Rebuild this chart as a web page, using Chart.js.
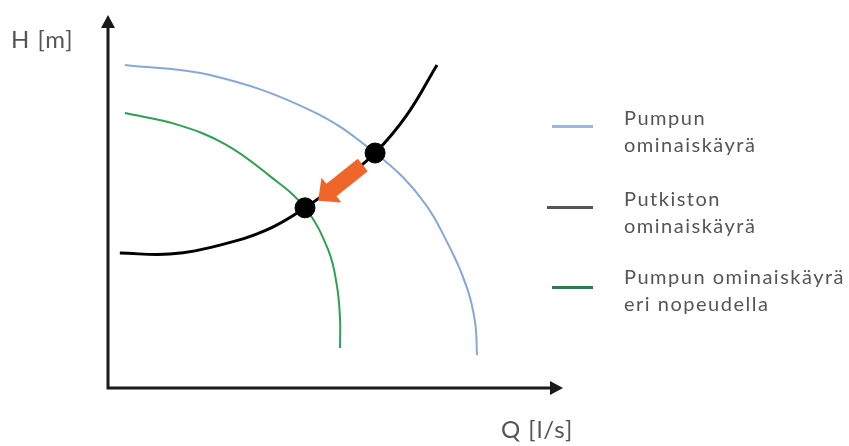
<!DOCTYPE html>
<html>
<head>
<meta charset="utf-8">
<script src="https://cdn.jsdelivr.net/npm/chart.js@4.4.1/dist/chart.umd.min.js"></script>
<style>
  html, body { margin: 0; padding: 0; background: #fff; }
  #wrap { position: relative; width: 849px; height: 446px; overflow: hidden; }
  #chart { position: absolute; left: 0; top: 0; }
  .lbl { position: absolute; font-family: Lato, "Open Sans", sans-serif; color: #555; white-space: nowrap; }
  .axis { font-size: 24px; letter-spacing: 1px; }
  .leg { font-size: 20px; line-height: 27px; letter-spacing: 1.5px; }
  .sw { position: absolute; height: 3px; width: 41px; }
</style>
</head>
<body>
<div id="wrap">
  <canvas id="chart" width="849" height="446"></canvas>
  <div class="lbl axis" style="left:11px; top:24px;">H [m]</div>
  <div class="lbl axis" style="left:501px; top:414px;">Q [l/s]</div>

  <div class="sw" style="left:552px; top:125px; background:#9bbad9;"></div>
  <div class="lbl leg" style="left:624px; top:104px;">Pumpun<br>ominaiskäyrä</div>

  <div class="sw" style="left:547px; top:206px; width:46px; background:#555;"></div>
  <div class="lbl leg" style="left:624px; top:185px;">Putkiston<br>ominaiskäyrä</div>

  <div class="sw" style="left:552px; top:286px; background:#2f7d4a;"></div>
  <div class="lbl leg" style="left:624px; top:263px;">Pumpun ominaiskäyrä<br>eri nopeudella</div>
</div>
<script>
// Pump curve (nominal speed), Q and H in relative units
const pumpQ = [3.7, 22.4, 44.4, 58.7, 68.6, 75.2, 79.0, 80.7, 81.1];
const pumpH = [86.6, 83.9, 74.5, 63.0, 51.2, 37.5, 26.5, 17.4, 8.8];

// Pump curve at reduced speed
const slowQ = [3.7, 14.7, 25.7, 35.6, 43.3, 48.4, 50.3, 51.0, 51.0];
const slowH = [73.7, 70.8, 65.4, 56.8, 48.3, 37.0, 27.5, 18.5, 10.7];

// System (piping) curve
const pipeQ = [2.6, 13.6, 24.6, 34.9, 43.3, 51.0, 58.7, 65.7, 72.3];
const pipeH = [36.2, 35.9, 38.3, 42.4, 48.3, 55.2, 63.0, 73.2, 86.6];

// Operating points
const opQ = [43.3, 58.7];
const opH = [48.3, 63.0];

// Orange arrow: from the nominal point toward the reduced-speed point
const arrowQ = [56.0, 46.2];
const arrowH = [59.8, 50.2];

const pts = (xs, ys) => xs.map((x, i) => ({ x, y: ys[i] }));

// axes with arrow heads, drawn along the chart area edges
const axesPlugin = {
  id: 'axesArrows',
  beforeDatasetsDraw(chart) {
    const { ctx, chartArea: a } = chart;
    ctx.save();
    ctx.strokeStyle = '#1a1a1a';
    ctx.fillStyle = '#1a1a1a';
    ctx.lineWidth = 3;
    ctx.beginPath();
    ctx.moveTo(a.left, a.bottom);
    ctx.lineTo(a.left, a.top + 10);
    ctx.moveTo(a.left - 1.5, a.bottom);
    ctx.lineTo(a.right - 10, a.bottom);
    ctx.stroke();
    // y arrow head
    ctx.beginPath();
    ctx.moveTo(a.left, a.top);
    ctx.lineTo(a.left - 7, a.top + 13);
    ctx.lineTo(a.left + 7, a.top + 13);
    ctx.closePath();
    ctx.fill();
    // x arrow head
    ctx.beginPath();
    ctx.moveTo(a.right, a.bottom);
    ctx.lineTo(a.right - 13, a.bottom - 7);
    ctx.lineTo(a.right - 13, a.bottom + 7);
    ctx.closePath();
    ctx.fill();
    ctx.restore();
  }
};

const arrowPlugin = {
  id: 'moveArrow',
  afterDatasetsDraw(chart) {
    const { ctx, scales: { x, y } } = chart;
    const x0 = x.getPixelForValue(arrowQ[0]), y0 = y.getPixelForValue(arrowH[0]);
    const x1 = x.getPixelForValue(arrowQ[1]), y1 = y.getPixelForValue(arrowH[1]);
    const len = Math.hypot(x1 - x0, y1 - y0);
    const ang = Math.atan2(y1 - y0, x1 - x0);
    const shaft = 8, head = 16, headLen = 17;
    ctx.save();
    ctx.translate(x0, y0);
    ctx.rotate(ang);
    ctx.fillStyle = '#f0652a';
    ctx.beginPath();
    ctx.moveTo(0, -shaft);
    ctx.lineTo(len - headLen, -shaft);
    ctx.lineTo(len - headLen, -head);
    ctx.lineTo(len, 0);
    ctx.lineTo(len - headLen, head);
    ctx.lineTo(len - headLen, shaft);
    ctx.lineTo(0, shaft);
    ctx.closePath();
    ctx.fill();
    ctx.restore();
  }
};

new Chart(document.getElementById('chart'), {
  type: 'scatter',
  data: {
    datasets: [
      {
        label: 'Toimintapisteet',
        data: pts(opQ, opH),
        backgroundColor: '#000',
        borderColor: '#000',
        pointRadius: 10,
        order: 0
      },
      {
        label: 'Pumpun ominaiskäyrä',
        data: pts(pumpQ, pumpH),
        showLine: true,
        borderColor: '#86a8d2',
        borderWidth: 2,
        pointRadius: 0,
        tension: 0.4,
        order: 3
      },
      {
        label: 'Pumpun ominaiskäyrä eri nopeudella',
        data: pts(slowQ, slowH),
        showLine: true,
        borderColor: '#2ea052',
        borderWidth: 2,
        pointRadius: 0,
        tension: 0.4,
        order: 2
      },
      {
        label: 'Putkiston ominaiskäyrä',
        data: pts(pipeQ, pipeH),
        showLine: true,
        borderColor: '#000',
        borderWidth: 3,
        pointRadius: 0,
        tension: 0.4,
        order: 1
      }
    ]
  },
  options: {
    responsive: false,
    animation: false,
    layout: { padding: { left: 108, top: 15, right: 286, bottom: 58 } },
    plugins: { legend: { display: false }, tooltip: { enabled: false } },
    scales: {
      x: { type: 'linear', min: 0, max: 100, display: false },
      y: { type: 'linear', min: 0, max: 100, display: false }
    }
  },
  plugins: [axesPlugin, arrowPlugin]
});
</script>
</body>
</html>
